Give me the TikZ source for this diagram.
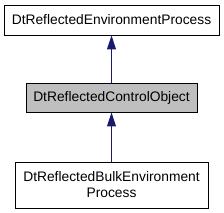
\documentclass[tikz,border=0pt]{standalone}
\usepackage{fontspec}
\setmainfont{Liberation Sans}
\usetikzlibrary{arrows.meta}
\definecolor{edgeblue}{HTML}{191970}
\definecolor{boxgray}{HTML}{BFBFBF}
\tikzset{
  classbox/.style={draw=black, line width=0.9pt, fill=white, inner sep=0pt, align=center,
    font=\fontsize{13.8}{16}\selectfont},
  inherit/.style={draw=edgeblue, line width=1pt, -{Triangle[length=14pt,width=9pt]}}
}
\begin{document}
\begin{tikzpicture}[x=1pt,y=1pt]
\useasboundingbox (0,0) rectangle (224,-213);
\node[classbox, minimum width=215pt, minimum height=30pt] (env) at (111.5,-20) {DtReflectedEnvironmentProcess};
\node[classbox, fill=boxgray, minimum width=171pt, minimum height=29pt] (ctrl) at (111.5,-97.5) {DtReflectedControlObject};
\node[classbox, minimum width=193pt, minimum height=46pt] (bulk) at (111.5,-185) {DtReflectedBulkEnvironment\\Process};
\draw[inherit] (ctrl.north) -- (env.south);
\draw[inherit] (bulk.north) -- (ctrl.south);
\end{tikzpicture}
\end{document}
